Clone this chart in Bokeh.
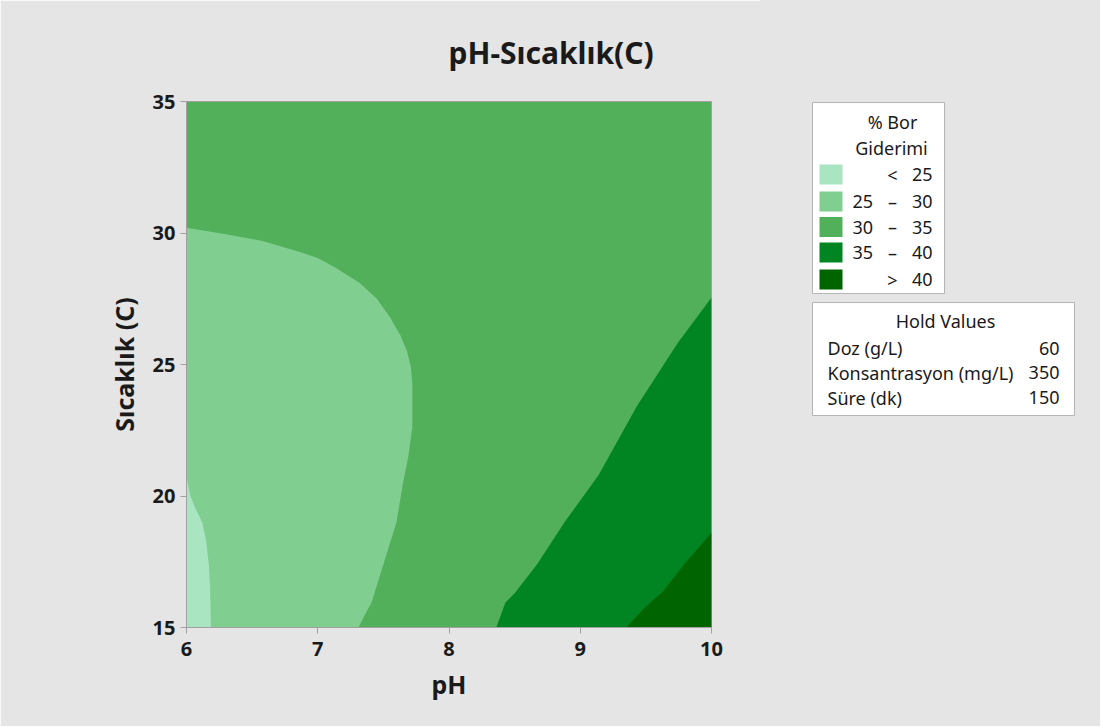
from bokeh.plotting import figure
from bokeh.models import Range1d, FixedTicker, Title
from bokeh.layouts import row
from bokeh.core.properties import value
from bokeh.embed import file_html
from bokeh.resources import INLINE

# ---- data ----
title_text = "pH-Sıcaklık(C)"
x_label = "pH"
y_label = "Sıcaklık (C)"
x_ticks = [6, 7, 8, 9, 10]
y_ticks = [15, 20, 25, 30, 35]

legend_title = ["% Bor", "Giderimi"]
level_labels_lo = ["", "25", "30", "35", ""]
level_labels_op = ["<", "–", "–", "–", ">"]
level_labels_hi = ["25", "30", "35", "40", "40"]
level_colors = ["#a8e5c0", "#81ce91", "#53b05a", "#008522", "#006400"]

# contour boundaries (pH, temperature)
c25_ph = [6.0, 6.03, 6.07, 6.12, 6.15, 6.17, 6.18, 6.186]
c25_t = [20.7, 20.0, 19.5, 19.0, 18.3, 17.4, 16.5, 15.0]

c30_ph = [6.0, 6.3, 6.58, 6.87, 7.0, 7.13, 7.32, 7.45, 7.55, 7.63, 7.68, 7.71, 7.72, 7.72, 7.69, 7.65, 7.60, 7.55, 7.50, 7.41, 7.35, 7.31]
c30_t = [30.2, 29.95, 29.7, 29.27, 29.05, 28.7, 28.1, 27.5, 26.8, 26.1, 25.5, 24.9, 24.3, 22.6, 21.5, 20.5, 19.0, 18.2, 17.4, 15.95, 15.4, 15.0]

c35_ph = [10.0, 9.74, 9.43, 9.14, 8.88, 8.67, 8.50, 8.43, 8.36]
c35_t = [27.55, 25.8, 23.4, 20.8, 19.0, 17.4, 16.3, 15.95, 15.0]

c40_ph = [10.0, 9.79, 9.63, 9.50, 9.35]
c40_t = [18.6, 17.4, 16.37, 15.8, 15.0]

hold_title = "Hold Values"
hold_names = ["Doz (g/L)", "Konsantrasyon (mg/L)", "Süre (dk)"]
hold_values = ["60", "350", "150"]

BG = "#e5e5e5"
AX = "#a0a0a0"
TXT = "#1a1a1a"
FONT = "Noto Sans"

H = 726
W1 = 760
W2 = 340

p = figure(width=W1, height=H, output_backend="svg", toolbar_location=None,
           x_range=Range1d(6, 10), y_range=Range1d(15, 35),
           min_border_left=186, min_border_right=W1 - 711, min_border_top=101, min_border_bottom=H - 627)
p.background_fill_color = level_colors[2]
p.border_fill_color = BG
p.outline_line_color = AX
p.grid.visible = False

# fill regions, nested painting order
p.patch([6.0] + c30_ph + [6.0], [15.0] + c30_t + [15.0], fill_color=level_colors[1], line_color=None)
p.patch([6.0] + c25_ph + [6.0], [15.0] + c25_t + [15.0], fill_color=level_colors[0], line_color=None)
p.patch([10.0] + c35_ph + [10.0], [15.0] + c35_t + [15.0], fill_color=level_colors[3], line_color=None)
p.patch([10.0] + c40_ph + [10.0], [15.0] + c40_t + [15.0], fill_color=level_colors[4], line_color=None)

for ax in (p.xaxis, p.yaxis):
    ax.axis_line_color = AX
    ax.major_tick_line_color = AX
    ax.minor_tick_line_color = None
    ax.major_tick_out = 6
    ax.major_tick_in = 0
    ax.major_label_text_font = FONT
    ax.major_label_text_font_style = "bold"
    ax.major_label_text_font_size = "20px"
    ax.major_label_text_color = TXT
    ax.axis_label_text_font = FONT
    ax.axis_label_text_font_style = "bold"
    ax.axis_label_text_font_size = "25px"
    ax.axis_label_text_color = TXT
p.xaxis.ticker = FixedTicker(ticks=x_ticks)
p.yaxis.ticker = FixedTicker(ticks=y_ticks)
p.xaxis.axis_label = x_label
p.yaxis.axis_label = y_label
p.xaxis.major_label_standoff = 8
p.yaxis.major_label_standoff = 5
p.xaxis.axis_label_standoff = 8
p.yaxis.axis_label_standoff = 9

t = Title(text=title_text, align="left", offset=262, text_font=FONT, text_font_style="bold",
          text_font_size="30px", text_color=TXT, standoff=58)
p.add_layout(t, "above")

# ---- legend panel (coordinates = page pixels) ----
lg = figure(width=W2, height=H, output_backend="svg", toolbar_location=None,
            x_range=Range1d(W1, W1 + W2), y_range=Range1d(H, 0), min_border=0)
lg.frame_align = False
lg.axis.visible = False
lg.grid.visible = False
lg.background_fill_color = BG
lg.border_fill_color = BG
lg.outline_line_color = BG
lg.outline_line_width = 3

lg.quad(left=[812, 812], right=[944, 1074], top=[102, 302], bottom=[293, 415],
        fill_color="white", line_color="#b4b4b4", line_width=1)

fs = "18px"
lg.text(x=[892, 891], y=[121, 147], text=legend_title, text_align="center", text_baseline="middle",
        text_font=value(FONT), text_font_size=fs, text_color=TXT)

row_y = [174, 201, 226.5, 252, 279]
lg.rect(x=[830.5] * 5, y=row_y, width=23, height=20, fill_color=level_colors, line_color=None)
lg.text(x=[852] * 5, y=row_y, text=level_labels_lo, text_align="left", text_baseline="middle",
        text_font=value(FONT), text_font_size=fs, text_color=TXT)
lg.text(x=[892] * 5, y=row_y, text=level_labels_op, text_align="center", text_baseline="middle",
        text_font=value(FONT), text_font_size=fs, text_color=TXT)
lg.text(x=[932] * 5, y=row_y, text=level_labels_hi, text_align="right", text_baseline="middle",
        text_font=value(FONT), text_font_size=fs, text_color=TXT)

lg.text(x=[945], y=[320], text=[hold_title], text_align="center", text_baseline="middle",
        text_font=value(FONT), text_font_size=fs, text_color=TXT)
hold_y = [347.5, 372, 397]
lg.text(x=[827] * 3, y=hold_y, text=hold_names, text_align="left", text_baseline="middle",
        text_font=value(FONT), text_font_size=fs, text_color=TXT)
lg.text(x=[1059] * 3, y=hold_y, text=hold_values, text_align="right", text_baseline="middle",
        text_font=value(FONT), text_font_size=fs, text_color=TXT)

layout = row(p, lg)
open("out.html", "w").write(file_html(layout, INLINE))
